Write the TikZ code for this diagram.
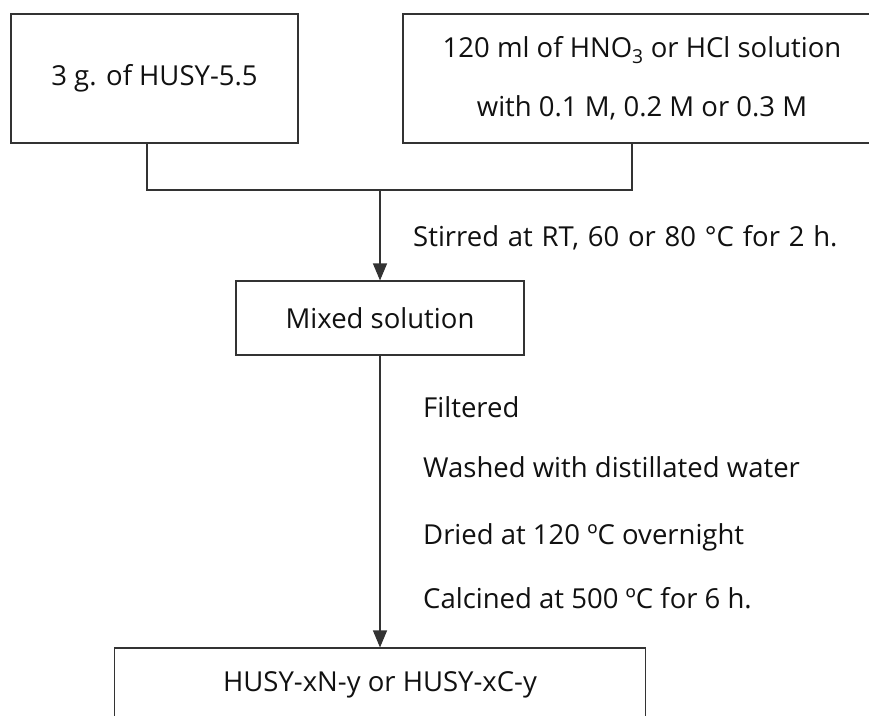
\documentclass[tikz,border=0pt]{standalone}
\usepackage{fontspec}
\setmainfont{Open Sans}
\usetikzlibrary{arrows.meta}
\definecolor{ln}{HTML}{333333}
\definecolor{tx}{HTML}{111111}
\begin{document}
\begin{tikzpicture}[x=1pt,y=-1pt,
  box/.style={draw=ln,line width=1.1pt,rectangle,inner sep=0pt,align=center,text=tx,font=\fontsize{27.5}{59}\selectfont},
  lbl/.style={anchor=west,inner sep=0pt,text=tx,font=\fontsize{27.5}{30}\selectfont},
  conn/.style={draw=ln,line width=1.1pt},
  arr/.style={conn,-{Triangle[length=17pt,width=14pt]}}]
\useasboundingbox[fill=white] (0,0) rectangle (869,715);
\node[box,minimum width=287pt,minimum height=129pt] (A) at (154.5,78.5) {3 g. of HUSY-5.5};
\node[box,minimum width=478pt,minimum height=129pt] (B) at (642,78.5) {\raisebox{-3pt}{120 ml of HNO\textsubscript{3} or HCl solution}\\\raisebox{-3pt}{with 0.1 M, 0.2 M or 0.3 M}};
\node[box,minimum width=288pt,minimum height=74pt] (M) at (380,318) {Mixed solution};
\node[box,minimum width=531pt,minimum height=74pt] (F) at (380,685) {HUSY-xN-y or HUSY-xC-y};
\coordinate (j) at (380,190);
\draw[conn] ([xshift=-7.5pt]A.south) |- (j) -| ([xshift=-10pt]B.south);
\draw[arr] (j) -- (M.north);
\draw[arr] (M.south) -- (F.north);
\node[lbl] (s1) at (413,238) {\spaceskip=8.8pt Stirred at RT, 60 or 80 °C for 2 h.};
\node[lbl] (s2) at (423,407) {Filtered};
\node[lbl] (s3) at (423,467) {Washed with distillated water};
\node[lbl] (s4) at (423,537) {Dried at 120 ºC overnight};
\node[lbl] (s5) at (423,598) {Calcined at 500 ºC for 6 h.};
\end{tikzpicture}
\end{document}
